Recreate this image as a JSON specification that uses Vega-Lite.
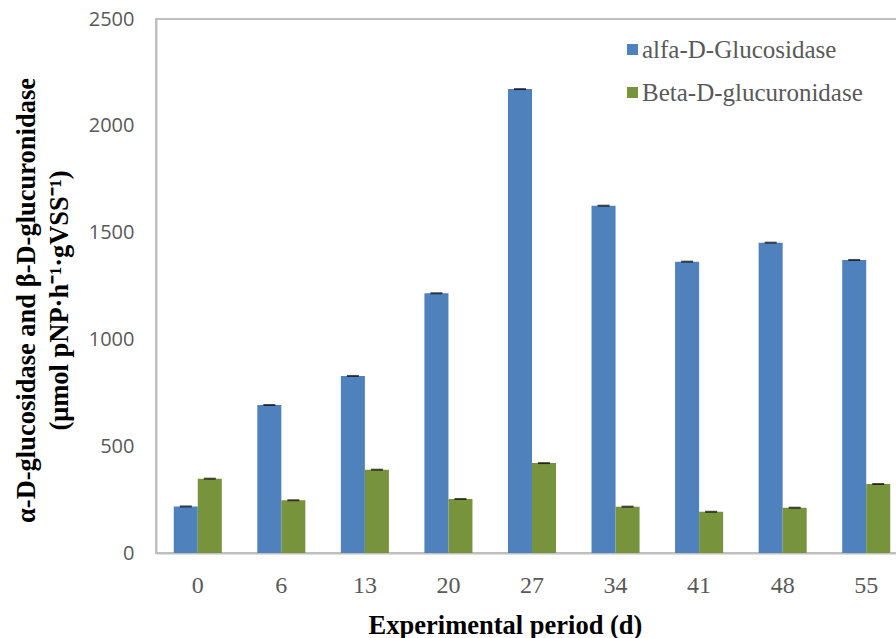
{
  "$schema": "https://vega.github.io/schema/vega-lite/v6.json",
  "width": 752,
  "height": 534,
  "autosize": {"type": "none"},
  "padding": {"left": 156, "top": 19, "right": 0, "bottom": 85},
  "background": "white",
  "config": {
    "view": {"stroke": "#bfbfbf", "strokeWidth": 2},
    "axis": {"grid": false, "ticks": false, "domainColor": "#bfbfbf", "domainWidth": 2}
  },
  "data": {
    "values": [
      {"day": "0", "series": "alfa-D-Glucosidase", "value": 218},
      {"day": "6", "series": "alfa-D-Glucosidase", "value": 693},
      {"day": "13", "series": "alfa-D-Glucosidase", "value": 829},
      {"day": "20", "series": "alfa-D-Glucosidase", "value": 1216},
      {"day": "27", "series": "alfa-D-Glucosidase", "value": 2172},
      {"day": "34", "series": "alfa-D-Glucosidase", "value": 1626},
      {"day": "41", "series": "alfa-D-Glucosidase", "value": 1364},
      {"day": "48", "series": "alfa-D-Glucosidase", "value": 1453},
      {"day": "55", "series": "alfa-D-Glucosidase", "value": 1372},
      {"day": "0", "series": "Beta-D-glucuronidase", "value": 348},
      {"day": "6", "series": "Beta-D-glucuronidase", "value": 247},
      {"day": "13", "series": "Beta-D-glucuronidase", "value": 390},
      {"day": "20", "series": "Beta-D-glucuronidase", "value": 253},
      {"day": "27", "series": "Beta-D-glucuronidase", "value": 421},
      {"day": "34", "series": "Beta-D-glucuronidase", "value": 217},
      {"day": "41", "series": "Beta-D-glucuronidase", "value": 193},
      {"day": "48", "series": "Beta-D-glucuronidase", "value": 212},
      {"day": "55", "series": "Beta-D-glucuronidase", "value": 323}
    ]
  },
  "encoding": {
    "x": {
      "field": "day",
      "type": "ordinal",
      "sort": ["0", "6", "13", "20", "27", "34", "41", "48", "55"],
      "scale": {"paddingInner": 0.425, "paddingOuter": 0.2125},
      "axis": {
        "title": "Experimental period (d)",
        "titleFont": "Liberation Serif",
        "titleFontSize": 26.5,
        "titleFontWeight": "bold",
        "titleColor": "#000000",
        "titleX": 349,
        "titleY": 80,
        "titleAnchor": null,
        "titleAlign": "center",
        "titleBaseline": "alphabetic",
        "labelFont": "Liberation Serif",
        "labelFontSize": 24,
        "labelColor": "#595959",
        "labelAngle": 0,
        "labelBaseline": "alphabetic",
        "labelPadding": 39
      }
    },
    "xOffset": {
      "field": "series",
      "type": "nominal",
      "sort": ["alfa-D-Glucosidase", "Beta-D-glucuronidase"],
      "scale": {"paddingInner": 0, "paddingOuter": 0}
    },
    "y": {
      "field": "value",
      "type": "quantitative",
      "scale": {"domain": [0, 2500], "nice": false},
      "axis": {
        "values": [0, 500, 1000, 1500, 2000, 2500],
        "format": "d",
        "labelFont": "Open Sans",
        "labelFontSize": 20,
        "labelColor": "#595959",
        "labelPadding": 22,
        "title": ["α-D-glucosidase and β-D-glucuronidase", "(μmol pNP·h⁻¹·gVSS⁻¹)"],
        "titleFont": "Liberation Serif",
        "titleFontSize": 26.5,
        "titleFontWeight": "bold",
        "titleColor": "#000000",
        "titleLineHeight": 33,
        "titleAngle": -90,
        "titleX": -130,
        "titleY": 281,
        "titleAnchor": null,
        "titleAlign": "center",
        "titleBaseline": "middle",
        "titleLimit": 0
      }
    }
  },
  "layer": [
    {
      "mark": {"type": "bar"},
      "encoding": {
        "color": {
          "field": "series",
          "type": "nominal",
          "scale": {"domain": ["alfa-D-Glucosidase", "Beta-D-glucuronidase"], "range": ["#4f81bd", "#77933c"]},
          "legend": {
            "title": null,
            "orient": "none",
            "legendX": 464,
            "legendY": 18,
            "padding": 0,
            "symbolType": "square",
            "symbolSize": 121,
            "symbolStrokeWidth": 0,
            "symbolOpacity": 1,
            "labelFont": "Liberation Serif",
            "labelFontSize": 25,
            "labelColor": "#595959",
            "labelOffset": -3,
            "labelLimit": 0,
            "rowPadding": 17
          }
        }
      }
    },
    {
      "mark": {"type": "tick", "color": "#000000", "thickness": 2, "size": 12},
      "encoding": {}
    }
  ]
}
